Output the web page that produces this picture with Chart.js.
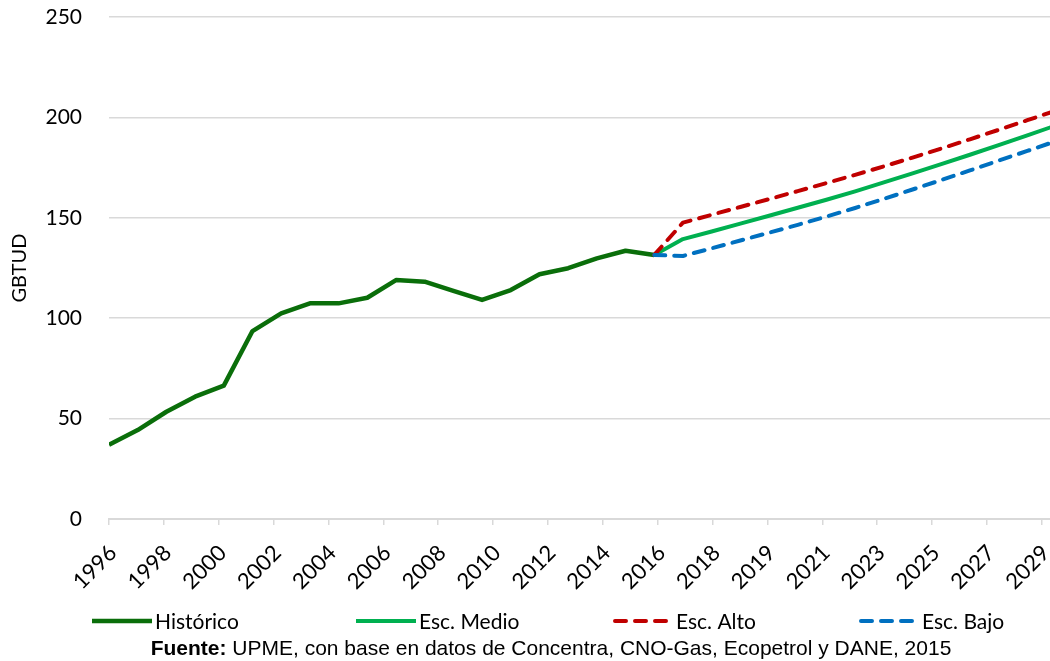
<!DOCTYPE html>
<html lang="es">
<head>
<meta charset="utf-8">
<title>Demanda de gas natural – GBTUD</title>
<script src="https://cdn.jsdelivr.net/npm/chart.js@4.4.1/dist/chart.umd.min.js"></script>
<style>
  html, body { margin: 0; padding: 0; background: #ffffff; }
  #wrap { position: relative; width: 1050px; height: 661px; }
</style>
</head>
<body>
<div id="wrap"><canvas id="chart" width="1050" height="661"></canvas></div>
<script>
// Historical demand (GBTUD)
const YEARS_HIST = [1996, 1997, 1998, 1999, 2000, 2001, 2002, 2003, 2004, 2005,
                    2006, 2007, 2008, 2009, 2010, 2011, 2012, 2013, 2014, 2015];
const HISTORICO  = [37.0, 44.3, 53.4, 60.9, 66.4, 93.6, 102.4, 107.4, 107.4, 110.2,
                    119.0, 118.2, 113.6, 109.1, 114.0, 121.9, 124.9, 129.8, 133.6, 131.5];

// Projection scenarios (GBTUD)
const YEARS_PROY = [2015, 2016, 2017, 2018, 2019, 2020, 2021, 2022,
                    2023, 2024, 2025, 2026, 2027, 2028, 2029];
const ESC_MEDIO  = [131.5, 139.4, 143.2, 147.1, 151.0, 155.0, 159.0, 163.2,
                    167.6, 172.1, 176.7, 181.4, 186.2, 191.1, 196.0];
const ESC_ALTO   = [131.5, 147.6, 151.5, 155.4, 159.3, 163.3, 167.3, 171.4,
                    175.6, 180.0, 184.5, 189.1, 193.8, 198.6, 203.4];
const ESC_BAJO   = [131.5, 131.0, 134.8, 138.7, 142.6, 146.5, 150.6, 154.9,
                    159.4, 164.1, 168.8, 173.6, 178.5, 183.3, 188.2];

// Category labels shown under the horizontal axis
const X_TICK_LABELS = ['1996', '1998', '2000', '2002', '2004', '2006', '2008', '2010', '2012',
                       '2014', '2016', '2018', '2019', '2021', '2023', '2025', '2027', '2029'];
const Y_MIN = 0, Y_MAX = 250, Y_STEP = 50;

const SOURCE_BOLD = 'Fuente:';
const SOURCE_TEXT = ' UPME, con base en datos de Concentra, CNO-Gas, Ecopetrol y DANE, 2015';

const toPoints = (xs, ys) => xs.map((x, i) => ({ x: x, y: ys[i] }));

const FONT_FAMILY = 'Lato, "Open Sans", sans-serif';
const TEXT_COLOR = '#000000';
const GRID_COLOR = '#d9d9d9';

// Legend row and source note under the axis
const legendBelow = {
  id: 'legendBelow',
  afterDraw(chart) {
    const ctx = chart.ctx;
    const startX = [92, 356, 613, 859];
    const lineLen = 60;
    const rowY = 621;
    ctx.save();
    chart.data.datasets.forEach((ds, i) => {
      const x0 = startX[i];
      ctx.beginPath();
      ctx.strokeStyle = ds.borderColor;
      ctx.lineWidth = ds.borderWidth;
      ctx.lineCap = ds.borderCapStyle || 'butt';
      ctx.setLineDash(ds.borderDash || []);
      const inset = ds.borderDash ? 2 : 0;
      ctx.moveTo(x0 + inset, rowY);
      ctx.lineTo(x0 + lineLen - inset, rowY);
      ctx.stroke();
      ctx.setLineDash([]);
      ctx.fillStyle = TEXT_COLOR;
      ctx.font = '21px ' + FONT_FAMILY;
      ctx.textAlign = 'left';
      ctx.textBaseline = 'middle';
      ctx.fillText(ds.label, x0 + lineLen + 3, rowY + 1);
    });

    // source note, centred
    const y = 649;
    const bold = 'bold 21px "Liberation Sans", Arial, sans-serif';
    const regular = '21px "Liberation Sans", Arial, sans-serif';
    ctx.textBaseline = 'middle';
    ctx.font = bold;
    const wb = ctx.measureText(SOURCE_BOLD).width;
    ctx.font = regular;
    const wt = ctx.measureText(SOURCE_TEXT).width;
    const x = 551 - (wb + wt) / 2;
    ctx.font = bold;
    ctx.fillText(SOURCE_BOLD, x, y);
    ctx.font = regular;
    ctx.fillText(SOURCE_TEXT, x + wb, y);
    ctx.restore();
  }
};

new Chart(document.getElementById('chart'), {
  type: 'line',
  data: {
    datasets: [
      {
        label: 'Histórico',
        data: toPoints(YEARS_HIST, HISTORICO),
        borderColor: '#0a6e0a',
        borderWidth: 4.5,
        borderJoinStyle: 'round',
        pointRadius: 0,
        xAxisID: 'xd',
        order: 3
      },
      {
        label: 'Esc. Medio',
        data: toPoints(YEARS_PROY, ESC_MEDIO),
        borderColor: '#00b050',
        borderWidth: 4,
        borderJoinStyle: 'round',
        pointRadius: 0,
        xAxisID: 'xd',
        order: 2
      },
      {
        label: 'Esc. Alto',
        data: toPoints(YEARS_PROY, ESC_ALTO),
        borderColor: '#c00000',
        borderWidth: 4,
        borderDash: [11, 9],
        borderCapStyle: 'round',
        borderJoinStyle: 'round',
        pointRadius: 0,
        xAxisID: 'xd',
        order: 1
      },
      {
        label: 'Esc. Bajo',
        data: toPoints(YEARS_PROY, ESC_BAJO),
        borderColor: '#0070c0',
        borderWidth: 4,
        borderDash: [11, 9],
        borderCapStyle: 'round',
        borderJoinStyle: 'round',
        pointRadius: 0,
        xAxisID: 'xd',
        order: 0
      }
    ]
  },
  options: {
    responsive: false,
    animation: false,
    devicePixelRatio: 1,
    layout: { padding: { top: 17, left: 0, right: 0, bottom: 0 } },
    plugins: {
      legend: { display: false },
      tooltip: { enabled: false }
    },
    scales: {
      // visible category ruler under the plot
      x: {
        type: 'linear',
        position: 'bottom',
        min: 0,
        max: 34.3,
        afterBuildTicks: (scale) => {
          scale.ticks = X_TICK_LABELS.map((_, i) => ({ value: i * 2 }));
        },
        afterFit: (scale) => {
          scale.height = 142;
          scale.paddingLeft = 0;
          scale.paddingRight = 0;
        },
        ticks: {
          autoSkip: false,
          minRotation: 45,
          maxRotation: 45,
          padding: 15,
          labelOffset: 4,
          font: { family: FONT_FAMILY, size: 22 },
          color: TEXT_COLOR,
          callback: (v) => X_TICK_LABELS[Math.round(v / 2)] || ''
        },
        grid: {
          drawOnChartArea: false,
          drawTicks: true,
          tickLength: 6,
          color: GRID_COLOR,
          lineWidth: 1.5
        },
        border: { display: true, color: GRID_COLOR, width: 2 }
      },
      // year scale the series are plotted against
      xd: {
        type: 'linear',
        display: false,
        min: 1996,
        max: 2028.79
      },
      y: {
        min: Y_MIN,
        max: Y_MAX,
        afterFit: (scale) => {
          scale.width = 109;
          scale.paddingTop = 0;
          scale.paddingBottom = 0;
        },
        ticks: {
          stepSize: Y_STEP,
          padding: 27,
          font: { family: FONT_FAMILY, size: 21 },
          color: TEXT_COLOR
        },
        grid: {
          color: GRID_COLOR,
          lineWidth: 1.5,
          drawTicks: false
        },
        border: { display: false },
        title: {
          display: true,
          text: 'GBTUD',
          font: { family: FONT_FAMILY, size: 20 },
          color: TEXT_COLOR,
          padding: { top: 8, bottom: 0 }
        }
      }
    }
  },
  plugins: [legendBelow]
});
</script>
</body>
</html>
